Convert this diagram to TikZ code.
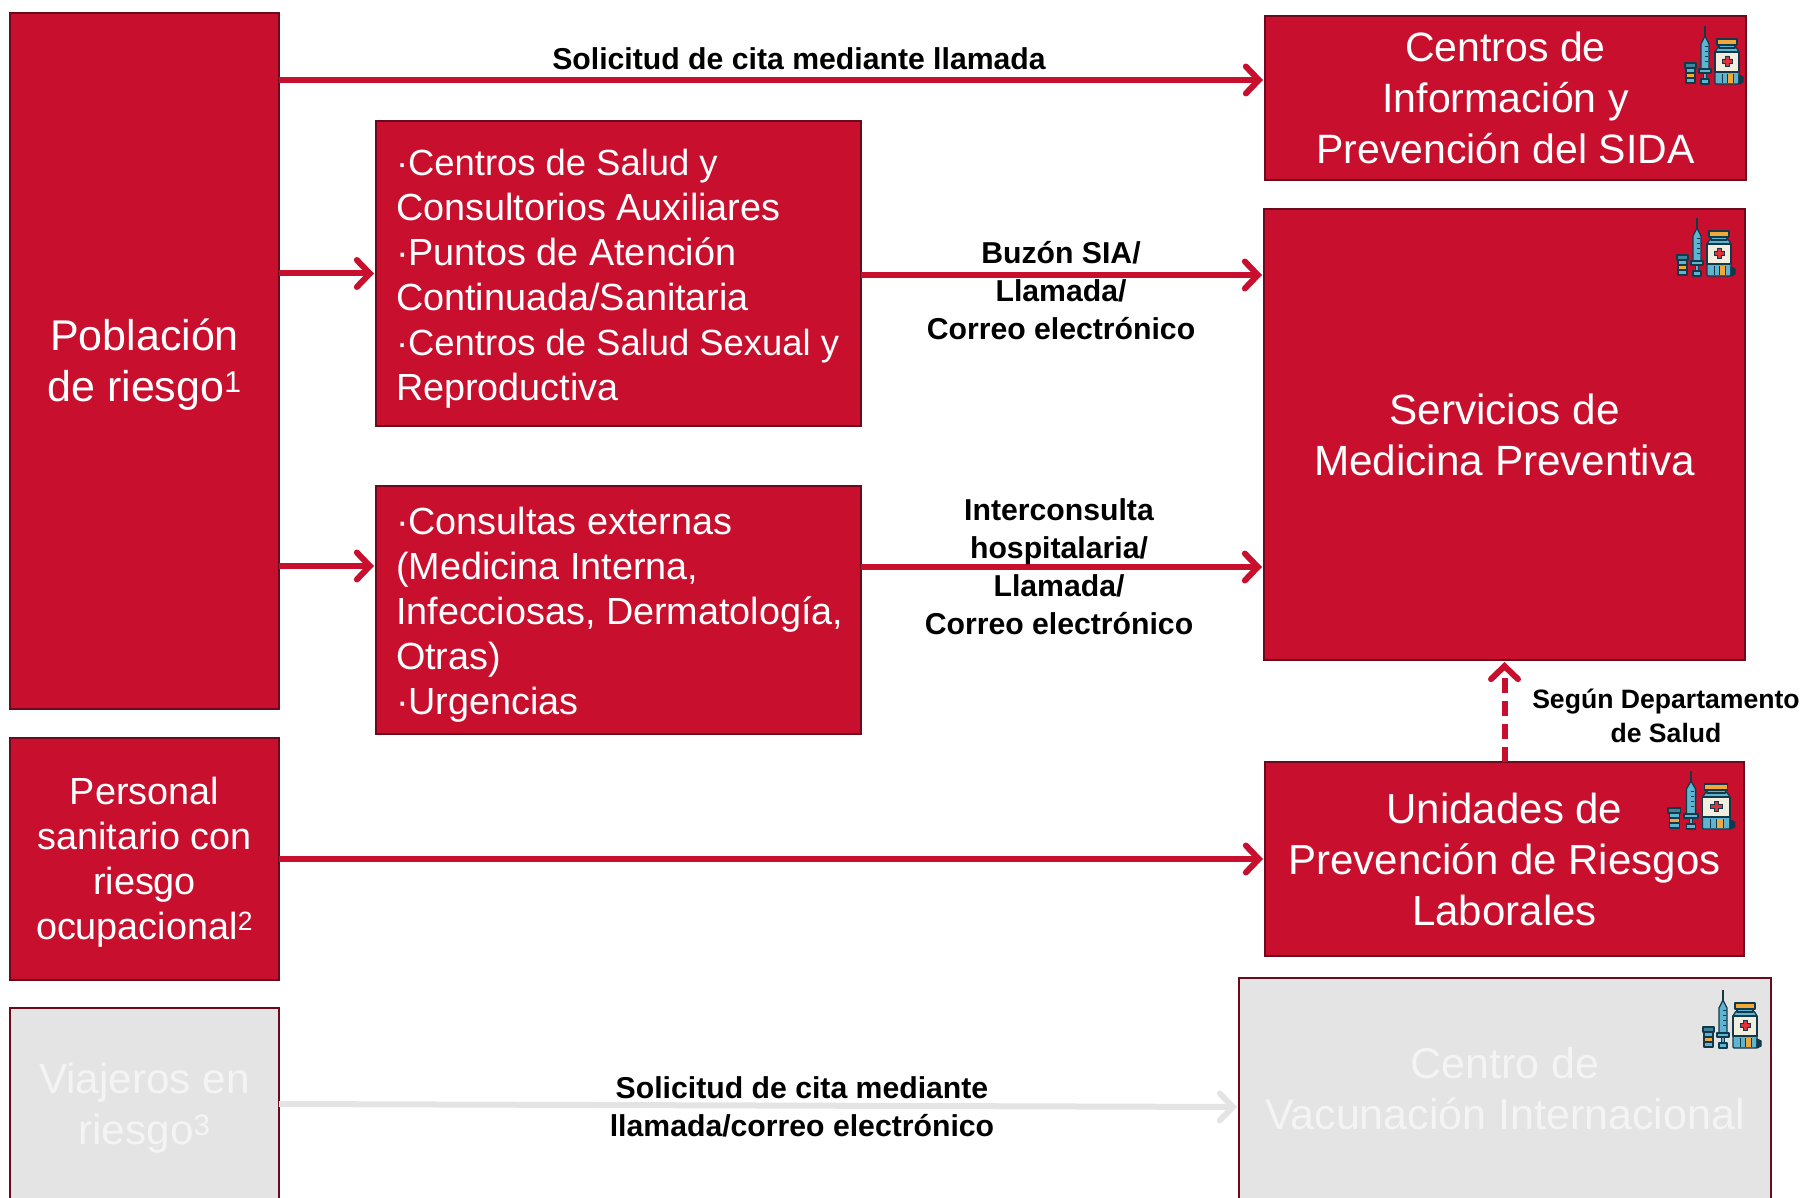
\documentclass[tikz,border=0pt]{standalone}
\usepackage{fontspec}
\setmainfont{Liberation Sans}
\usetikzlibrary{arrows.meta,calc}
\definecolor{rojo}{HTML}{C8102E}
\definecolor{borde}{HTML}{6A0A1C}
\definecolor{gris}{HTML}{E4E4E4}
\definecolor{blanco}{HTML}{F4F4F4}
\definecolor{idk}{HTML}{12394A}
\definecolor{iblue}{HTML}{5DB5D2}
\definecolor{iorange}{HTML}{F0A83A}
\definecolor{icream}{HTML}{F1EEDF}
\definecolor{ired}{HTML}{E0303C}
\newcommand{\topfill}[1]{\rule{0pt}{#1pt}}
\newcommand{\supra}[1]{\smash{\textsuperscript{#1}}}
\newcommand{\tight}[1]{\mbox{\fontsize{36.4}{45}\selectfont #1}}
\tikzset{
  x=1pt,y=-1pt,
  boxbase/.style={draw=borde,line width=2.6pt,inner sep=0pt,outer sep=0pt,align=center},
  redbox/.style={boxbase,fill=rojo,text=white},
  greybox/.style={boxbase,fill=gris,text=blanco},
  bigtext/.style={font=\fontsize{#1}{51}\selectfont},
  midtext/.style={font=\fontsize{37.8}{45}\selectfont},
  conn/.style={draw=rojo,line width=6pt,shorten >=2pt,-{Straight Barb[length=13pt,width=27pt,line cap=round,line width=6pt]}},
  connd/.style={conn,dash pattern=on 15pt off 8pt},
  conng/.style={conn,draw=gris},
  lab/.style={font=\fontsize{30.2}{38}\selectfont\bfseries,text=black,align=center,inner sep=0pt},
  labs/.style={font=\fontsize{26.6}{33.5}\selectfont\bfseries,text=black,align=center,inner sep=0pt},
  ioline/.style={draw=idk,line width=1.3pt,line join=round},
  med/.pic={
    % vial
    \filldraw[ioline,fill=iblue] (1,42) rectangle (10,57);
    \filldraw[ioline,fill=iorange] (1,47) rectangle (10,52);
    \filldraw[ioline,fill=iblue!60!idk] (0,37) rectangle (11,42);
    % syringe
    \draw[ioline,line width=1.2pt] (20,0) -- (20,10);
    \filldraw[ioline,fill=iblue] (16,43) -- (16,18) -- (20,10) -- (24,18) -- (24,43) -- cycle;
    \draw[ioline,line width=.8pt] (20,20) -- (23,20) (20,25) -- (23,25) (20,30) -- (23,30) (20,35) -- (23,35);
    \filldraw[ioline,fill=iblue] (14,43) rectangle (26,47);
    \filldraw[ioline,fill=iblue] (18.5,47) rectangle (21.5,53);
    \filldraw[ioline,fill=iblue] (16,53) rectangle (24,58);
    % bottle
    \filldraw[ioline,fill=iblue,rounded corners=1pt] (30,26) -- (33,21) -- (51,21) -- (54,26) -- (54,58) -- (30,58) -- cycle;
    \filldraw[ioline,fill=icream] (30,26) rectangle (54,46);
    \filldraw[draw=idk,line width=.8pt,fill=ired] (40,30) -- (44,30) -- (44,33) -- (47,33) -- (47,37) -- (44,37) -- (44,40) -- (40,40) -- (40,37) -- (37,37) -- (37,33) -- (40,33) -- cycle;
    \filldraw[ioline,fill=iorange] (32,13) rectangle (52,19);
    \filldraw[ioline,fill=iblue] (34,19) rectangle (50,22);
    \fill[iorange] (43,48) rectangle (48,57);
    \draw[idk,line width=1pt] (37,48) -- (37,57) (42,48) -- (42,57) (48,48) -- (48,57);
    \filldraw[ioline,fill=idk] (54,49) -- (58,51) -- (58,56) -- (54,58) -- cycle;
  }
}
\begin{document}
\begin{tikzpicture}
\useasboundingbox (0,0) rectangle (1805,1198);
\clip (0,0) rectangle (1805,1198);
% boxes
\node[redbox,bigtext=43,minimum width=269pt,minimum height=696pt] (pob) at (144.5,361) {\topfill{38}Población\\de riesgo\supra{1}};
\node[redbox,midtext,minimum width=269pt,minimum height=242pt] (per) at (144.5,859) {\topfill{33}Personal\\sanitario con\\riesgo\\ocupacional\supra{2}};
\node[greybox,minimum width=269pt,minimum height=194pt,anchor=north] (via) at (144.5,1008) {};
\node[bigtext=42.3,text=blanco,align=center,inner sep=0pt] (viat) at (144.5,1108) {Viajeros en\\riesgo\supra{3}};
\node[redbox,midtext,minimum width=485pt,minimum height=305pt] (cs) at (618.5,273.5) {\parbox[c]{445pt}{\raggedright\topfill{37}\tight{·Centros de Salud y}\\Consultorios Auxiliares\\·Puntos de Atención\\Continuada/Sanitaria\\\tight{·Centros de Salud Sexual y}\\Reproductiva}};
\node[redbox,midtext,minimum width=485pt,minimum height=248pt] (ce) at (618.5,610) {\parbox[c]{445pt}{\raggedright\topfill{37}·Consultas externas\\(Medicina Interna,\\\mbox{Infecciosas, Dermatología,}\\Otras)\\·Urgencias}};
\node[redbox,bigtext=41,minimum width=481pt,minimum height=164pt] (sida) at (1505.5,98) {Centros de\\Información y\\Prevención del SIDA};
\node[redbox,bigtext=42.3,minimum width=481pt,minimum height=451pt] (prev) at (1504.5,434.5) {Servicios de\\Medicina Preventiva};
\node[redbox,bigtext=42,minimum width=479pt,minimum height=194pt] (prl) at (1504.5,859) {Unidades de\\Prevención de Riesgos\\Laborales};
\node[greybox,bigtext=43,minimum width=532pt,minimum height=221pt] (vac) at (1505,1088.5) {Centro de\\Vacunación Internacional};
% y references for the connectors
\coordinate (y1) at (0,80);
\coordinate (y3) at (0,566);
\coordinate (y5) at (0,275);
\coordinate (y6) at (0,567);
\coordinate (y8) at (0,1104);
\coordinate (y9) at (0,1107);
% connectors
\draw[conn] (pob.east |- y1) -- (sida.west |- y1);
\draw[conn] (pob.east |- cs.west) -- (cs.west);
\draw[conn] (pob.east |- y3) -- (ce.west |- y3);
\draw[conn] (cs.east |- y5) -- (prev.west |- y5);
\draw[conn] (ce.east |- y6) -- (prev.west |- y6);
\draw[connd] (prl.north) -- (prev.south);
\draw[conn] (per.east) -- (prl.west);
\draw[conng] (via.east |- y8) -- (vac.west |- y9);
% labels
\node[lab] (l1) at (799,59) {Solicitud de cita mediante llamada};
\node[lab] (l2) at (1061,291) {Buzón SIA/\\Llamada/\\Correo electrónico};
\node[lab] (l3) at (1059,567) {Interconsulta\\hospitalaria/\\Llamada/\\Correo electrónico};
\node[labs] (l4) at (1666,716) {Según Departamento\\de Salud};
\node[lab] (l5) at (802,1107) {Solicitud de cita mediante\\llamada/correo electrónico};
% icons
\pic at (1685,26) {med};
\pic at (1677,218) {med};
\pic[xscale=1.15] at (1668,771) {med};
\pic at (1703,990) {med};
\end{tikzpicture}
\end{document}
